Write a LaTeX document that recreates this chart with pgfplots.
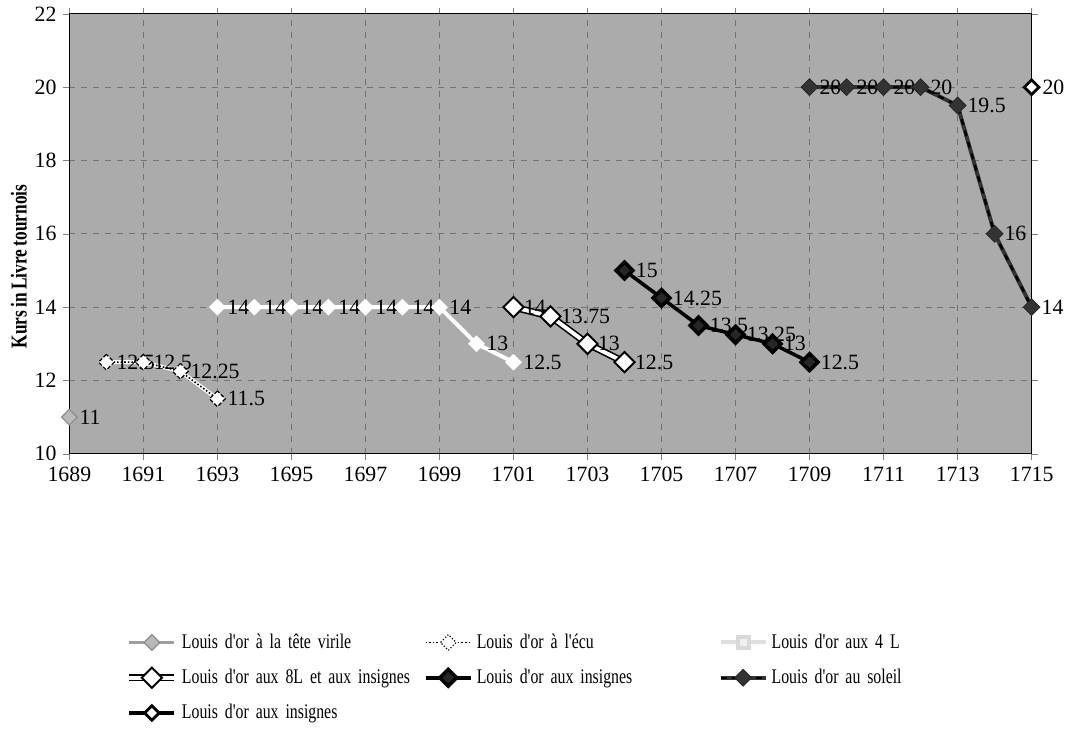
\documentclass[border=0pt]{standalone}
\usepackage{fontspec}
\setmainfont{Liberation Serif}
\newfontfamily\condfont[FakeStretch=0.76, WordSpace=0.76]{Liberation Serif}
\usepackage{pgfplots}
\pgfplotsset{compat=1.18}
\newcommand\f{\fontsize{11}{13}\selectfont}
\begin{document}
\begin{tikzpicture}
\begin{axis}[
    scale only axis, width=485.5pt, height=222pt,
    xmin=1689, xmax=1715, ymin=10, ymax=22,
    xtick={1689,1691,...,1715}, ytick={10,12,...,22},
    /pgf/number format/set thousands separator={},
    /pgf/number format/assume math mode=true,
    tick label style={font=\f},
    tick align=outside, major tick length=3pt,
    grid=major, major grid style={dashed, black!55, line width=0.4pt},
    axis background/.style={fill=gray!66},
    ylabel={\fontsize{11.5}{13}\selectfont\condfont\bfseries Kurs in Livre tournois},
    every axis y label/.style={at={(rel axis cs:-0.0525,0.426)}, rotate=90, anchor=center},
    clip=false,
    nodes near coords,
    every node near coord/.append style={text=black, font=\f, anchor=west, xshift=1.5pt},
    legend columns=3,
    legend style={at={(0.052,-0.39)}, anchor=north west, draw=none, fill=none,
        font=\fontsize{10.5}{13}\selectfont\condfont, row sep=5pt,
        nodes={text width=120pt, align=left}},
    legend cell align=left,
    legend image code/.code={\draw[mark repeat=2,mark phase=2] plot coordinates {(0cm,0cm) (0.4cm,0cm) (0.8cm,0cm)};},
]
% Louis d'or a la tete virile
\addplot[gray!75, line width=1.5pt, mark=square*, mark size=2.8pt,
    mark options={rotate=45, fill=gray!55, draw=gray!90, line width=0.6pt}]
    coordinates {(1689,11)};
% Louis d'or a l'ecu
\addplot[white, line width=2pt, postaction={draw=black, densely dotted, line width=0.8pt},
    mark=square*, mark size=2.8pt,
    mark options={rotate=45, fill=white, draw=black, densely dotted, line width=0.6pt}]
    coordinates {(1690,12.5) (1691,12.5) (1692,12.25) (1693,11.5)};
% Louis d'or aux 4 L
\addplot[white, line width=2pt, mark=square*, mark size=2.8pt,
    mark options={rotate=45, fill=white, draw=white, line width=0.4pt},
    legend image post style={gray!25, mark options={fill=gray!12, draw=gray!30}}]
    coordinates {(1693,14) (1694,14) (1695,14) (1696,14) (1697,14) (1698,14) (1699,14) (1700,13) (1701,12.5)};
% Louis d'or aux 8L et aux insignes
\addplot[black, line width=0.8pt, double=white, double distance=2pt,
    mark=square*, mark size=3.6pt,
    mark options={rotate=45, fill=white, draw=black, line width=1pt}]
    coordinates {(1701,14) (1702,13.75) (1703,13) (1704,12.5)};
% Louis d'or aux insignes
\addplot[black, line width=1.8pt, mark=square*, mark size=3pt,
    mark options={rotate=45, fill=black!85, draw=black}]
    coordinates {(1704,15) (1705,14.25) (1706,13.5) (1707,13.25) (1708,13) (1709,12.5)};
% Louis d'or au soleil
\addplot[gray!40!black, line width=2pt, postaction={draw=black, dashed, line width=1.2pt},
    mark=square*, mark size=3pt,
    mark options={rotate=45, fill=gray!40!black, draw=gray!30!black, solid, line width=0.4pt}]
    coordinates {(1709,20) (1710,20) (1711,20) (1712,20) (1713,19.5) (1714,16) (1715,14)};
% Louis d'or aux insignes (1715)
\addplot[black, line width=2pt, mark=square*, mark size=2.6pt,
    mark options={rotate=45, fill=white, draw=black, line width=1.4pt}]
    coordinates {(1715,20)};
\legend{Louis d'or à la tête virile, Louis d'or à l'écu, Louis d'or aux 4 L,
    \mbox{Louis d'or aux 8L et aux insignes}, Louis d'or aux insignes, Louis d'or au soleil,
    Louis d'or aux insignes}
\end{axis}
\path (-35pt,0) -- (0,0);
\end{tikzpicture}
\end{document}
